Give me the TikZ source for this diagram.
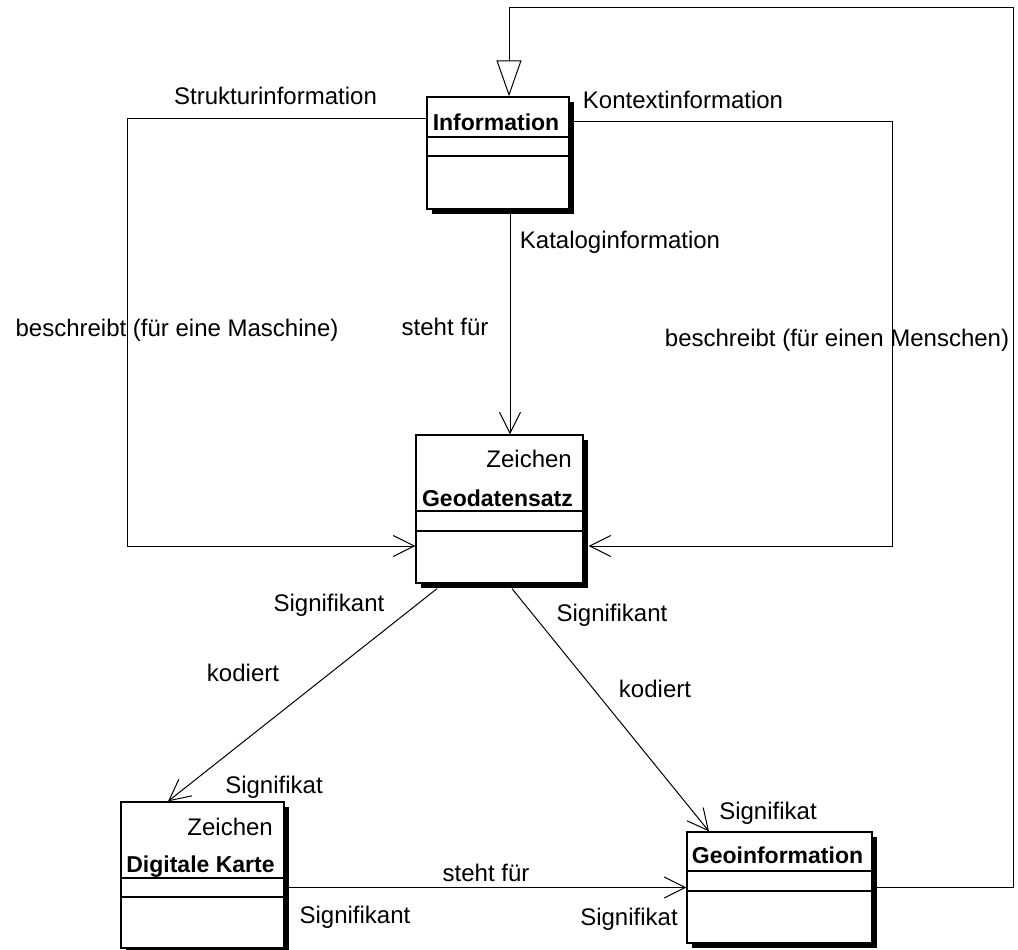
\documentclass[tikz,border=0pt]{standalone}
\usepackage{fontspec}
\setmainfont{Liberation Sans}
\usetikzlibrary{arrows.meta,shadows}
\begin{document}
\begin{tikzpicture}[x=1pt,y=-1pt,
  classbox/.style={draw=black, line width=1.3pt, fill=white, inner sep=0pt, rectangle,
    drop shadow={shadow xshift=5pt, shadow yshift=-5pt, opacity=1, fill=black}},
  conn/.style={draw=black, line width=1pt},
  barb/.style={-{Straight Barb[length=21pt,width=21pt,line width=1pt]}},
  hollow/.style={-{Triangle[open,length=36pt,width=25pt,line width=1pt]}},
  compart/.style={draw=black, line width=1.2pt},
  lbl/.style={inner sep=0pt, text height=17pt, text depth=0pt, font=\fontsize{24}{28}\selectfont},
  cname/.style={inner sep=0pt, text height=17pt, text depth=0pt, font=\fontsize{23}{28}\selectfont\bfseries},
]
\path[fill=white, use as bounding box] (0,0) rectangle (1018,950);

% class boxes
\node[classbox, minimum width=142pt, minimum height=112pt] (info) at (498,153) {};
\node[classbox, minimum width=167pt, minimum height=148pt] (geod) at (499.5,509) {};
\node[classbox, minimum width=163pt, minimum height=146pt] (dk) at (202.5,875) {};
\node[classbox, minimum width=185pt, minimum height=111pt] (geo) at (779.5,887.5) {};

% compartments
\draw[compart] (427,137) -- (569,137);
\draw[compart] (427,156) -- (569,156);
\draw[compart] (416,511) -- (583,511);
\draw[compart] (416,531) -- (583,531);
\draw[compart] (121,878) -- (284,878);
\draw[compart] (121,897) -- (284,897);
\draw[compart] (687,871) -- (872,871);
\draw[compart] (687,891) -- (872,891);

% class names and stereotypes
\node[cname] (infoname) at (496,121.5) {Information};
\node[lbl, anchor=east] (geodst) at (572,459) {Zeichen};
\node[cname] (geodname) at (497.5,498) {Geodatensatz};
\node[lbl, anchor=east] (dkst) at (273,827) {Zeichen};
\node[cname] (dkname) at (200.5,864) {Digitale Karte};
\node[cname] (geoname) at (777.5,855) {Geoinformation};

% connectors
\draw[conn, barb] ([yshift=35pt]info.west) -- ++(-299,0) |- ([yshift=-37pt]geod.west);
\draw[conn, barb] ([yshift=32pt]info.east) -- ++(323,0) |- ([xshift=5pt,yshift=-37pt]geod.east);
\draw[conn, barb] ([xshift=12pt]info.south) -- ([xshift=12pt]info.south |- geod.north);
\draw[conn, barb] ([xshift=-62.5pt,yshift=-5pt]geod.south) -- ([xshift=-34.5pt]dk.north);
\draw[conn, barb] ([xshift=12.5pt,yshift=-5pt]geod.south) -- ([xshift=-70.5pt]geo.north);
\draw[conn, barb] (dk.east |- geo.west) -- (geo.west);
\draw[conn, hollow] (geo.east) -- ++(141,0) -- ++(0,-879.5) -| ([xshift=11pt]info.north);

% role and association labels
\node[lbl] (l1) at (275.5,96) {Strukturinformation};
\node[lbl] (l2) at (683,100) {Kontextinformation};
\node[lbl] (l3) at (620,240) {Kataloginformation};
\node[lbl] (l4) at (445,327) {steht für};
\node[lbl] (l5) at (177,328) {beschreibt (für eine Maschine)};
\node[lbl] (l6) at (837,338) {beschreibt (für einen Menschen)};
\node[lbl] (l7) at (329,603) {Signifikant};
\node[lbl] (l8) at (612,613) {Signifikant};
\node[lbl] (l9) at (243,673) {kodiert};
\node[lbl] (l10) at (655,689) {kodiert};
\node[lbl] (l11) at (274,785) {Signifikat};
\node[lbl] (l12) at (768,811) {Signifikat};
\node[lbl] (l13) at (486,873) {steht für};
\node[lbl] (l14) at (355,915) {Signifikant};
\node[lbl] (l15) at (629,917) {Signifikat};
\end{tikzpicture}
\end{document}
